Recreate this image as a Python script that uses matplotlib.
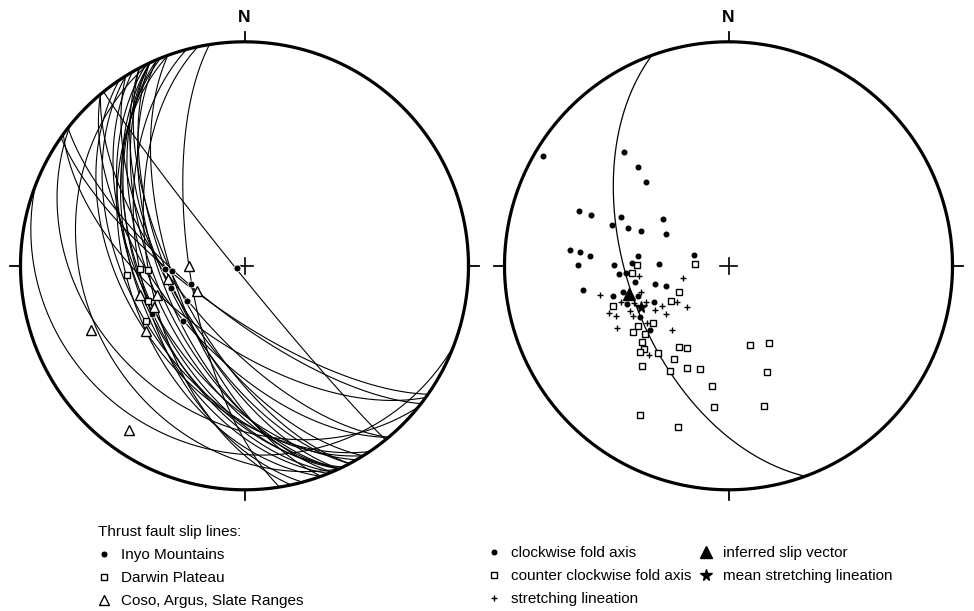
import numpy as np
import matplotlib
matplotlib.use("Agg")
import matplotlib.pyplot as plt

plt.rcParams.update({
    "font.family": ["Liberation Sans Narrow", "Liberation Sans", "DejaVu Sans"],
    "font.size": 11,
})

# ---- left net: thrust fault planes (strike, right-hand rule) and slip lines ----
fault_strike = [171, 141, 155, 160, 128, 148, 140, 140, 154, 160, 165, 168, 150, 148,
                152, 125, 158, 155, 155, 146, 155, 111, 129, 157, 155, 157, 126, 152]
fault_dip = [70, 87, 63, 64, 72, 63, 66, 60, 51, 47, 52, 55, 53, 48,
             62, 72, 50, 56, 53, 46, 29, 18, 33, 60, 58, 52, 62, 65]

inyo_trend = [255, 267.4, 266.1, 251.1, 252.8, 238.8, 228.1, 242.3]
inyo_plunge = [87.2, 60.8, 63.3, 69.4, 62.0, 65.4, 59.8, 51.4]
darwin_trend = [265.3, 268.4, 267.8, 250.0, 240.7]
darwin_plunge = [46.4, 51.5, 54.4, 52.3, 48.3]
coso_trend = [270, 259.9, 242.3, 254.1, 251.7, 245.5, 236.5, 247.2, 215.2]
coso_plunge = [69.7, 61.5, 70.4, 50.0, 56.1, 53.2, 46.1, 26.8, 11.2]

# ---- right net: fold axes and lineations ----
cw_trend = [300.6, 317.5, 317.4, 315.5, 290.3, 290.5, 294.3, 305.1, 289.4, 290.6, 291.8,
            296.6, 275.7, 275.5, 274.2, 275.9, 287.0, 270.3, 270.5, 271.4, 271.4, 265.8,
            265.7, 260.4, 256.4, 252.0, 260.7, 256.2, 255.6, 251.6, 249.4, 244.1, 240.1, 230.6]
cw_plunge = [4.4, 31.4, 39.8, 46.4, 29.6, 35.0, 46.4, 60.5, 44.1, 50.5, 55.4,
             64.3, 29.8, 33.9, 37.9, 56.5, 76.8, 33.3, 47.6, 54.4, 64.7, 52.0,
             49.5, 55.1, 62.4, 66.0, 34.7, 49.8, 45.7, 54.9, 49.8, 59.8, 52.2, 52.6]
ccw_trend = [270.8, 272.6, 266.0, 241.8, 238.6, 250.8, 232.8, 236.5, 235.4, 230.9, 228.6,
             225.6, 225.7, 218.8, 211.0, 207.1, 210.5, 220.6, 209.0, 202.4, 195.6, 187.6,
             185.8, 164.7, 152.7, 159.9, 165.7, 210.5, 197.5]
ccw_plunge = [56.6, 77.7, 54.6, 69.5, 65.3, 44.5, 55.4, 49.8, 46.8, 50.1, 47.5,
              46.0, 44.2, 48.4, 55.0, 56.2, 50.0, 40.5, 45.4, 49.3, 50.6, 44.9,
              36.8, 59.9, 58.0, 48.2, 35.7, 23.5, 25.5]
str_trend = [263.4, 254.6, 257.0, 253.5, 251.5, 248.6, 246.3, 239.1, 225.5, 248.5,
             245.8, 245.4, 242.2, 238.8, 232.4, 234.3, 241.0, 234.6, 221.1, 221.5]
str_plunge = [57.0, 72.7, 40.9, 56.5, 47.9, 52.7, 57.1, 61.5, 68.7, 42.1,
              44.3, 50.0, 50.3, 58.4, 61.1, 67.1, 42.6, 53.4, 58.7, 45.6]
slip_trend, slip_plunge = [254.4], [52.0]
mean_trend, mean_plunge = [244.9], [54.4]
plane_strike, plane_dip = 160, 53


def line_xy(trend, plunge):
    # equal-area, lower hemisphere
    t = np.radians(np.asarray(trend, float))
    p = np.radians(np.asarray(plunge, float))
    e, n, d = np.cos(p) * np.sin(t), np.cos(p) * np.cos(t), np.sin(p)
    return e / np.sqrt(1 + d), n / np.sqrt(1 + d)


def plane_xy(strike, dip):
    s, dp = np.radians(strike), np.radians(dip)
    a = np.radians(np.linspace(0, 180, 361))
    e = np.cos(a) * np.sin(s) + np.sin(a) * np.cos(dp) * np.sin(s + np.pi / 2)
    n = np.cos(a) * np.cos(s) + np.sin(a) * np.cos(dp) * np.cos(s + np.pi / 2)
    d = np.sin(a) * np.sin(dp)
    return e / np.sqrt(1 + d), n / np.sqrt(1 + d)


def draw_net(ax):
    th = np.linspace(0, 2 * np.pi, 400)
    ax.plot(np.cos(th), np.sin(th), color="black", lw=2.3, zorder=5)
    for dx, dy in [(0, 1), (0, -1), (1, 0), (-1, 0)]:
        ax.plot([dx, dx * 1.045], [dy, dy * 1.045], color="black", lw=1.3)
    ax.plot([-0.036, 0.036], [0, 0], color="black", lw=1.2, zorder=6)
    ax.plot([0, 0], [-0.036, 0.036], color="black", lw=1.2, zorder=6)
    ax.text(0, 1.107, "N", ha="center", va="center", fontsize=12.5,
            fontweight="bold", family=["Liberation Sans", "DejaVu Sans"])
    ax.set_xlim(-1.2, 1.2)
    ax.set_ylim(-1.2, 1.2)
    ax.axis("off")


fig = plt.figure(figsize=(9.74, 6.11), dpi=100)
W, H = 974, 611
size = 2.4 * 224
axL = fig.add_axes([(244.5 - size / 2) / W, (345.2 - size / 2) / H, size / W, size / H])
axR = fig.add_axes([(728.5 - size / 2) / W, (345.2 - size / 2) / H, size / W, size / H])

# left panel
draw_net(axL)
for s, d in zip(fault_strike, fault_dip):
    x, y = plane_xy(s, d)
    axL.plot(x, y, color="black", lw=0.8, zorder=2)
h_inyo, = axL.plot(*line_xy(inyo_trend, inyo_plunge), "o", ms=5, color="black",
                   mec="white", mew=0.6, zorder=8, label="Inyo Mountains")
h_darwin, = axL.plot(*line_xy(darwin_trend, darwin_plunge), "s", ms=4.6, mfc="white",
                     mec="black", mew=1.0, zorder=7, label="Darwin Plateau")
h_coso, = axL.plot(*line_xy(coso_trend, coso_plunge), "^", ms=7.5, mfc="white",
                   mec="black", mew=1.0, zorder=9, label="Coso, Argus, Slate Ranges")

# right panel
draw_net(axR)
x, y = plane_xy(plane_strike, plane_dip)
axR.plot(x, y, color="black", lw=0.9, zorder=2)
h_cw, = axR.plot(*line_xy(cw_trend, cw_plunge), "o", ms=3.3, color="black",
                 zorder=7, label="clockwise fold axis")
h_ccw, = axR.plot(*line_xy(ccw_trend, ccw_plunge), "s", ms=4.4, mfc="white",
                  mec="black", mew=1.0, zorder=6, label="counter clockwise fold axis")
h_str, = axR.plot(*line_xy(str_trend, str_plunge), "+", ms=4.5, color="black",
                  mew=1.0, zorder=6, label="stretching lineation")
h_slip, = axR.plot(*line_xy(slip_trend, slip_plunge), "^", ms=8, color="black",
                   zorder=9, label="inferred slip vector")
h_mean, = axR.plot(*line_xy(mean_trend, mean_plunge), "*", ms=8.5, color="black",
                   zorder=9, label="mean stretching lineation")

leg_kw = dict(frameon=False, borderpad=0, borderaxespad=0, handlelength=0.8,
              handletextpad=0.7, labelspacing=0.6, fontsize=11, loc="upper left")
leg1 = fig.legend(handles=[h_inyo, h_darwin, h_coso], title="Thrust fault slip lines:",
                  title_fontsize=11, bbox_to_anchor=(98 / W, 1 - 525 / H), **leg_kw)
leg1._legend_box.align = "left"
fig.legend(handles=[h_cw, h_ccw, h_str], bbox_to_anchor=(488 / W, 1 - 546 / H), **leg_kw)
fig.legend(handles=[h_slip, h_mean], bbox_to_anchor=(700 / W, 1 - 546 / H), **leg_kw)

fig.savefig("out.png", dpi=100)
